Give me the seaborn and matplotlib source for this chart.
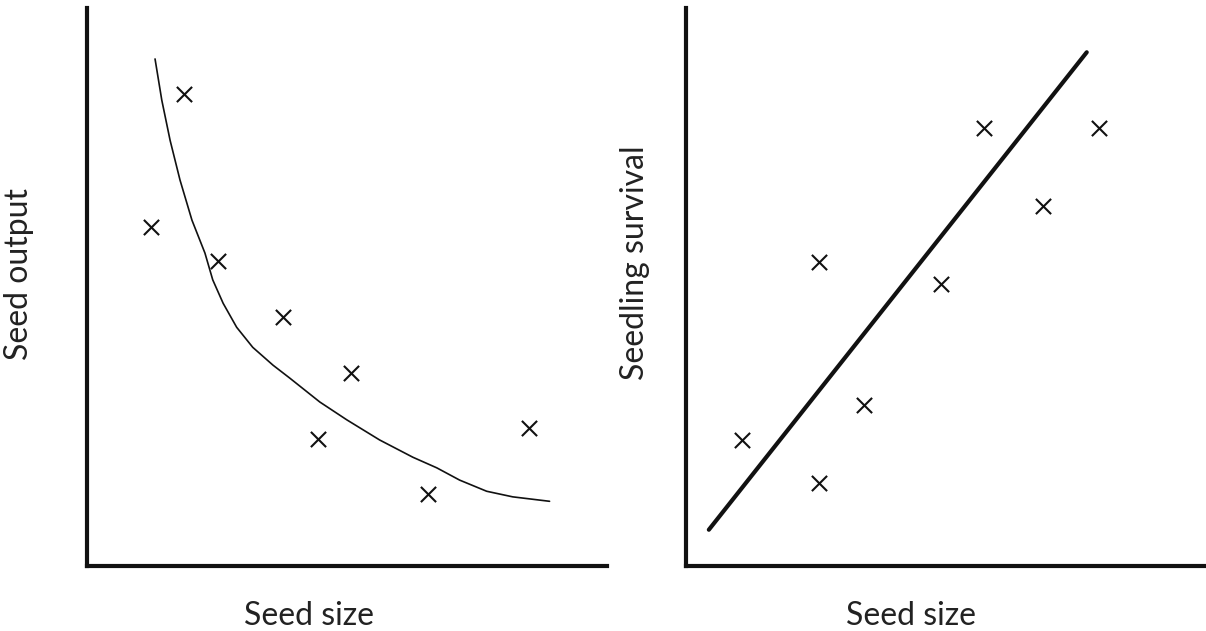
import numpy as np
import pandas as pd
import seaborn as sns
import matplotlib.pyplot as plt

# left panel: seed output vs seed size
out_x = [1.87, 1.23, 2.52, 3.77, 5.08, 4.44, 6.56, 8.50]
out_y = [8.46, 6.08, 5.47, 4.46, 3.46, 2.28, 1.29, 2.47]
curve_x = [1.31, 1.44, 1.60, 1.79, 2.02, 2.27, 2.42, 2.62, 2.88, 3.19, 3.58,
           3.90, 4.48, 5.00, 5.63, 6.27, 6.73, 7.17, 7.69, 8.19, 8.90]
curve_y = [9.09, 8.35, 7.63, 6.92, 6.20, 5.61, 5.13, 4.71, 4.28, 3.92, 3.60,
           3.37, 2.94, 2.62, 2.26, 1.95, 1.76, 1.54, 1.34, 1.24, 1.16]

# right panel: seedling survival vs seed size
surv_x = [1.08, 2.56, 2.56, 3.42, 4.90, 5.73, 6.87, 7.94]
surv_y = [2.26, 1.49, 5.45, 2.89, 5.05, 7.85, 6.45, 7.85]
fit_x = [0.44, 7.71]
fit_y = [0.65, 9.21]


def style_axis(ax):
    ax.set_xlim(0, 10)
    ax.set_ylim(0, 10)
    ax.set_xticks([])
    ax.set_yticks([])
    for side in ['top', 'right']:
        ax.spines[side].set_visible(False)
    for side in ['left', 'bottom']:
        ax.spines[side].set_linewidth(3)
        ax.spines[side].set_color('#111111')


def main():
    sns.set_style('white')
    plt.rcParams['font.family'] = ['Lato', 'DejaVu Sans']

    fig = plt.figure(figsize=(12.06, 6.31), dpi=100)
    ax1 = fig.add_axes([0.0721, 0.103, 0.431, 0.884])
    ax2 = fig.add_axes([0.5688, 0.103, 0.431, 0.884])

    left = pd.DataFrame({'size': out_x, 'output': out_y})
    curve = pd.DataFrame({'size': curve_x, 'output': curve_y})
    sns.lineplot(x='size', y='output', data=curve, sort=False, color='#111111',
                 linewidth=1.2, ax=ax1)
    sns.scatterplot(x='size', y='output', data=left, marker='x', s=120,
                    color='#111111', linewidth=1.5, ax=ax1)

    right = pd.DataFrame({'size': surv_x, 'survival': surv_y})
    fit = pd.DataFrame({'size': fit_x, 'survival': fit_y})
    sns.lineplot(x='size', y='survival', data=fit, sort=False, color='#111111',
                 linewidth=3, ax=ax2)
    sns.scatterplot(x='size', y='survival', data=right, marker='x', s=120,
                    color='#111111', linewidth=1.5, ax=ax2)

    for ax in (ax1, ax2):
        style_axis(ax)

    ax1.set_xlabel('Seed size', fontsize=23, color='#222222')
    ax1.set_ylabel('Seed output', fontsize=23, color='#222222')
    ax2.set_xlabel('Seed size', fontsize=23, color='#222222')
    ax2.set_ylabel('Seedling survival', fontsize=23, color='#222222')
    ax1.xaxis.set_label_coords(0.427, -0.063)
    ax2.xaxis.set_label_coords(0.433, -0.063)
    ax1.yaxis.set_label_coords(-0.102, 0.523)
    ax2.yaxis.set_label_coords(-0.069, 0.543)

    fig.savefig('out.png', dpi=100, facecolor='white')


if __name__ == "__main__":
    main()
